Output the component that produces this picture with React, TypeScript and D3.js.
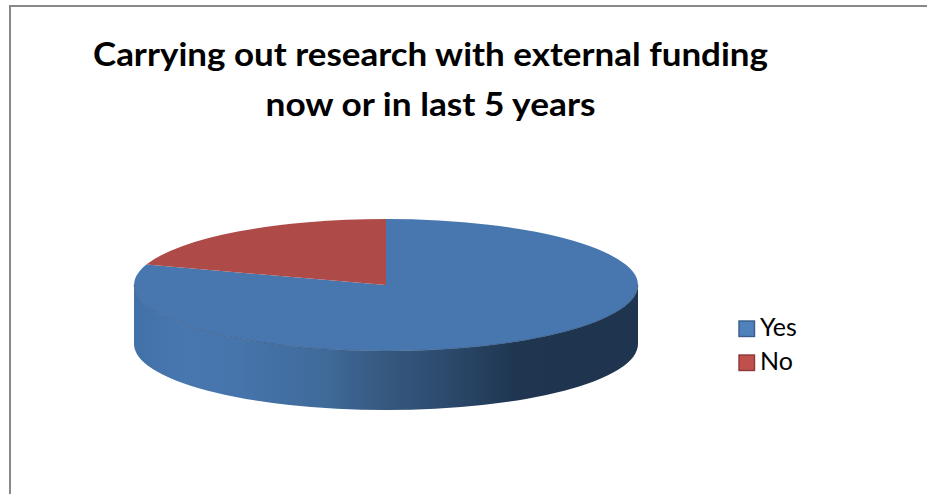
import React from "react";
import * as d3 from "d3";

const categories = ["Yes", "No"];
const values = [80, 20];
const topColors = ["#4877b0", "#ae4a47"];
const legendColors = ["#4f81bd", "#c0504d"];
const legendStrokes = ["#385d8a", "#8c3836"];
const titleLines = ["Carrying out research with external funding", "now or in last 5 years"];

const W = 927, H = 494;
const cx = 386, cy = 285, rx = 252, ry = 66, depth = 59;

const wallStops: [number, string][] = [
  [0, "#4271a8"], [0.1, "#4877b0"], [0.2, "#4675ac"], [0.38, "#3f6a9a"],
  [0.5, "#36587f"], [0.62, "#2c4a6d"], [0.76, "#1f3550"], [1, "#1f344e"],
];

export default function App() {
  const pie = d3.pie<number>().sort(null).startAngle(0).endAngle(2 * Math.PI);
  const arcs = pie(values);
  const arc = d3.arc<d3.PieArcDatum<number>>().innerRadius(0).outerRadius(1);
  const xs = d3.scaleLinear().domain([-1, 1]).range([cx - rx, cx + rx]);
  const ys = d3.scaleLinear().domain([-1, 1]).range([cy - ry, cy + ry]);
  const wall = `M${xs(-1)},${ys(0)} A${rx},${ry} 0 0 0 ${xs(1)},${ys(0)} L${xs(1)},${ys(0) + depth} A${rx},${ry} 0 0 1 ${xs(-1)},${ys(0) + depth} Z`;
  return (
    <svg width={W} height={H} viewBox={`0 0 ${W} ${H}`} style={{ position: "absolute", left: 0, top: 0, background: "#fff" }}>
      <defs>
        <linearGradient id="wall" gradientUnits="userSpaceOnUse" x1={xs(-1)} x2={xs(1)} y1={0} y2={0}>
          {wallStops.map(([o, c]) => <stop key={o} offset={o} stopColor={c} />)}
        </linearGradient>
      </defs>
      <path d={`M10,${H} V6 H${W}`} fill="none" stroke="#898989" strokeWidth={2} />
      <g fontFamily="Lato, 'Open Sans', sans-serif" fontWeight={700} fontSize={33} fill="#000" textAnchor="middle">
        {titleLines.map((t, i) => (
          <text key={t} x={430.5} y={66 + i * 50} textLength={i === 0 ? 675 : 330} lengthAdjust="spacingAndGlyphs">{t}</text>
        ))}
      </g>
      <path d={wall} fill="url(#wall)" />
      <g transform={`translate(${cx},${cy}) scale(${rx},${ry})`}>
        {arcs.map((a, i) => (
          <path key={categories[i]} d={arc(a) ?? ""} fill={topColors[i]} />
        ))}
      </g>
      <path d={`M${xs(-1)},${ys(0)} A${rx},${ry} 0 0 0 ${xs(1)},${ys(0)}`} fill="none" stroke="#35597f" strokeWidth={0.8} opacity={0.8} />
      <g fontFamily="Lato, 'Open Sans', sans-serif" fontSize={25} fill="#000">
        {categories.map((c, i) => (
          <g key={c}>
            <rect x={739} y={321 + i * 34} width={15.5} height={15.5} fill={legendColors[i]} stroke={legendStrokes[i]} strokeWidth={1.4} />
            <text x={760} y={336 + i * 34}>{c}</text>
          </g>
        ))}
      </g>
    </svg>
  );
}
